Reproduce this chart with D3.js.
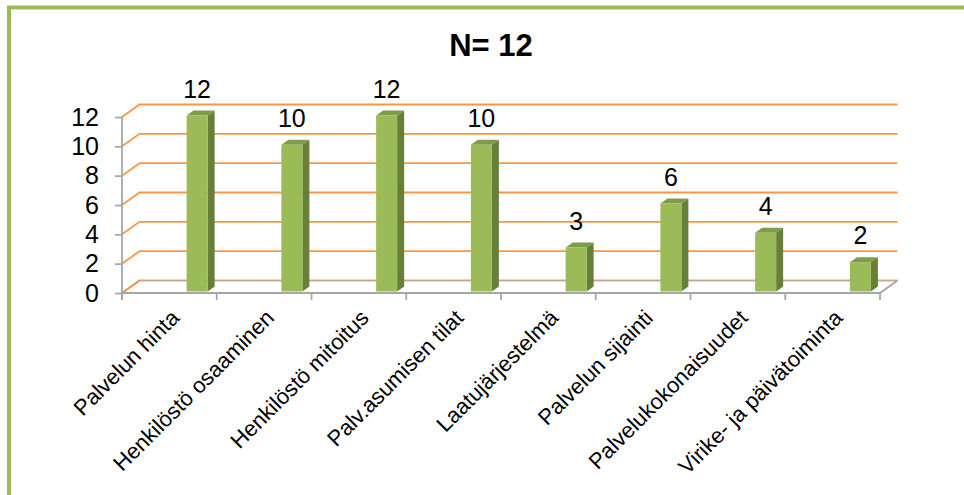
<!DOCTYPE html>
<html>
<head>
<meta charset="utf-8">
<script src="https://cdn.jsdelivr.net/npm/d3@7"></script>
<style>
  body { margin: 0; background: #fff; }
  text { font-family: "Liberation Sans", Arial, sans-serif; fill: #000; }
</style>
</head>
<body>
<div id="chart"></div>
<script>
const categories = [
  "Palvelun hinta",
  "Henkilöstö osaaminen",
  "Henkilöstö mitoitus",
  "Palv.asumisen tilat",
  "Laatujärjestelmä",
  "Palvelun sijainti",
  "Palvelukokonaisuudet",
  "Virike- ja päivätoiminta"
];
const values = [12, 10, 12, 10, 3, 6, 4, 2];
const yTicks = [0, 2, 4, 6, 8, 10, 12];
const title = "N= 12";

const W = 964, H = 495;
const depthDx = 17.5, depthDy = -12.5;   // oblique offset of the back wall

const svg = d3.select("#chart")
  .append("svg")
  .attr("width", W)
  .attr("height", H);

// green frame (only left and top edges are visible in the picture)
svg.append("path")
  .attr("d", "M9,495 V7.5 H964")
  .attr("fill", "none")
  .attr("stroke", "#9bbb59")
  .attr("stroke-width", 4);

svg.append("text")
  .attr("x", 491)
  .attr("y", 56)
  .attr("text-anchor", "middle")
  .style("font-size", "31px")
  .style("font-weight", "bold")
  .text(title);

const x = d3.scaleBand()
  .domain(categories)
  .range([122, 880])
  .paddingInner(0)
  .paddingOuter(0);

const y = d3.scaleLinear()
  .domain([0, 12])
  .range([293, 117]);

const x0 = x.range()[0], x1 = x.range()[1];

// gridlines: slant on side wall + horizontal on back wall
const grid = svg.append("g");
grid.selectAll("path")
  .data(yTicks)
  .enter()
  .append("path")
  .attr("d", d => `M${x0},${y(d)} L${x0 + depthDx},${y(d) + depthDy} L${x1 + depthDx},${y(d) + depthDy}`)
  .attr("fill", "none")
  .attr("stroke", d => d === 0 ? "#c9a78f" : "#f79646")
  .attr("stroke-width", 1.8);
// left slant of the floor stays orange
grid.append("path")
  .attr("d", `M${x0},${y(0)} L${x0 + depthDx},${y(0) + depthDy}`)
  .attr("stroke", "#f79646")
  .attr("stroke-width", 1.8);

// floor front edge + right slant
svg.append("path")
  .attr("d", `M${x0},${y(0)} L${x1},${y(0)} L${x1 + depthDx},${y(0) + depthDy}`)
  .attr("fill", "none")
  .attr("stroke", "#a6a6a6")
  .attr("stroke-width", 1.8);

// x ticks at category boundaries
svg.append("g").selectAll("line")
  .data(d3.range(categories.length + 1))
  .enter()
  .append("line")
  .attr("x1", i => x0 + i * x.bandwidth())
  .attr("x2", i => x0 + i * x.bandwidth())
  .attr("y1", y(0))
  .attr("y2", y(0) + 7)
  .attr("stroke", "#a6a6a6")
  .attr("stroke-width", 1.8);

// y axis
const yAxis = svg.append("g")
  .attr("transform", `translate(${x0},0)`)
  .call(d3.axisLeft(y).tickValues(yTicks).tickSize(7).tickPadding(16).tickSizeOuter(0));
yAxis.select(".domain")
  .attr("d", `M0,${y(12)} V${y(0) + 7}`)
  .attr("stroke", "#a6a6a6")
  .attr("stroke-width", 1.8);
yAxis.selectAll(".tick line").attr("stroke", "#a6a6a6").attr("stroke-width", 1.8);
yAxis.selectAll(".tick text")
  .style("font-size", "25px")
  .style("font-family", "'Liberation Sans', Arial, sans-serif")
  .attr("fill", "#000");

// bars (3D boxes)
const zFront = 0.12, zBack = 0.52;
const barW = 21;
const barOffset = x.bandwidth() * 0.66;
const bars = svg.append("g").selectAll("g")
  .data(values.map((v, i) => ({ cat: categories[i], v })))
  .enter()
  .append("g");

function fx(d) { return x(d.cat) + barOffset + zFront * depthDx; }
function fy(v) { return y(v) + zFront * depthDy; }
const sdx = (zBack - zFront) * depthDx, sdy = (zBack - zFront) * depthDy;

bars.append("path") // side
  .attr("d", d => {
    const l = fx(d) + barW, t = fy(d.v), b = fy(0);
    return `M${l},${t} L${l + sdx},${t + sdy} L${l + sdx},${b + sdy} L${l},${b} Z`;
  })
  .attr("fill", "#677f38");
bars.append("path") // top
  .attr("d", d => {
    const l = fx(d), t = fy(d.v);
    return `M${l},${t} L${l + sdx},${t + sdy} L${l + barW + sdx},${t + sdy} L${l + barW},${t} Z`;
  })
  .attr("fill", "#7f9c48");
bars.append("rect") // front
  .attr("x", d => fx(d))
  .attr("y", d => fy(d.v))
  .attr("width", barW)
  .attr("height", d => fy(0) - fy(d.v))
  .attr("fill", "#9bbb59");

// value labels
bars.append("text")
  .attr("x", d => fx(d) + barW / 2)
  .attr("y", d => fy(d.v) - 18)
  .attr("text-anchor", "middle")
  .style("font-size", "25px")
  .text(d => d.v);

// category labels rotated -45
svg.append("g").selectAll("text")
  .data(categories)
  .enter()
  .append("text")
  .attr("transform", d => `translate(${x(d) + x.bandwidth() / 2},${308}) rotate(-45)`)
  .attr("text-anchor", "end")
  .attr("dy", "0.72em")
  .style("font-size", "22px")
  .text(d => d);
</script>
</body>
</html>
